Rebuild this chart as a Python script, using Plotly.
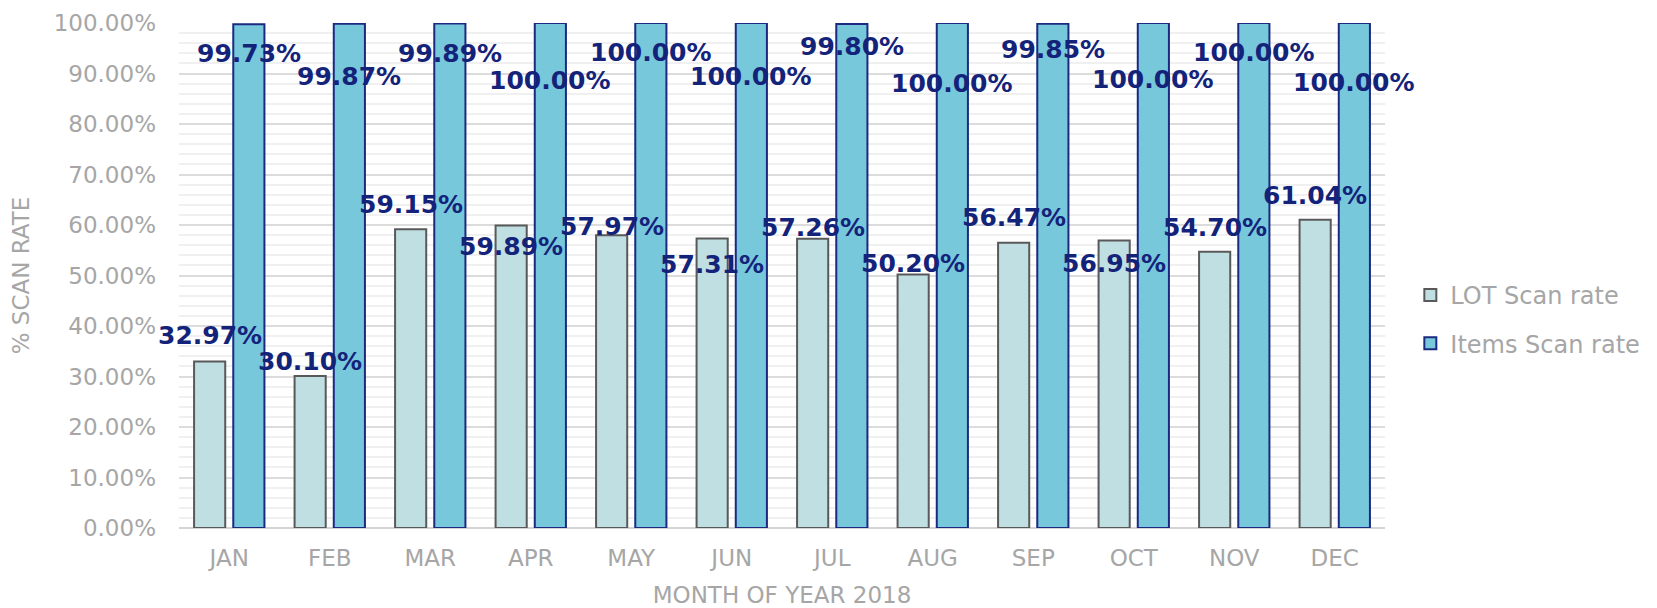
import plotly.graph_objects as go

months = ["JAN", "FEB", "MAR", "APR", "MAY", "JUN", "JUL", "AUG", "SEP", "OCT", "NOV", "DEC"]
lot_rate = [0.3297, 0.3010, 0.5915, 0.5989, 0.5797, 0.5731, 0.5726, 0.5020, 0.5647, 0.5695, 0.5470, 0.6104]
items_rate = [0.9973, 0.9987, 0.9989, 1.0000, 1.0000, 1.0000, 0.9980, 1.0000, 0.9985, 1.0000, 1.0000, 1.0000]

# label placement (vertical pixel shift relative to bar top), as in the original chart
lot_label_shift = [26, 15, 25, -21, 9, -26, 11, 11, 25, -23, 24, 24]
items_label_shift = [-29, -53, -30, -57, -29, -53, -22, -60, -26, -56, -29, -59]

NAVY = "#14237A"
GRAY = "#A6A6A6"
FONT = "DejaVu Sans"

fig = go.Figure()
fig.add_trace(go.Bar(
    x=months, y=lot_rate, name="LOT Scan rate",
    width=0.31, offset=-0.35,
    marker=dict(color="#C0DFE2", line=dict(color="#595959", width=2)),
    legendgroup="a", cliponaxis=False,
))
fig.add_trace(go.Bar(
    x=months, y=items_rate, name="Items Scan rate",
    width=0.31, offset=0.04,
    marker=dict(color="#78C8DC", line=dict(color="#1B2A80", width=2)),
    legendgroup="b", cliponaxis=False,
))

annotations = []
for m, v, s in zip(months, lot_rate, lot_label_shift):
    annotations.append(dict(x=m, y=v, xref="x", yref="y", text=f"<b>{v*100:.2f}%</b>",
                            showarrow=False, xshift=-19.6, yshift=s,
                            font=dict(family=FONT, size=25, color=NAVY)))
for m, v, s in zip(months, items_rate, items_label_shift):
    annotations.append(dict(x=m, y=v, xref="x", yref="y", text=f"<b>{v*100:.2f}%</b>",
                            showarrow=False, xshift=19.6, yshift=s,
                            font=dict(family=FONT, size=25, color=NAVY)))

# page body has an 8px default margin, so the figure is sized to fit the window
fig.update_layout(
    width=1649, height=600,
    margin=dict(l=171, r=272, t=15, b=80, autoexpand=False),
    paper_bgcolor="white", plot_bgcolor="white",
    barmode="overlay",
    font=dict(family=FONT, size=24, color=GRAY),
    annotations=annotations,
    legend=dict(x=1.021, xanchor="left", y=0.505, yanchor="top",
                traceorder="grouped", tracegroupgap=14,
                font=dict(family=FONT, size=24, color=GRAY)),
    xaxis=dict(
        type="category", range=[-0.5, 11.5], automargin=False,
        showgrid=False, showline=False,
        zeroline=False, ticks="", ticklabelstandoff=14,
        tickfont=dict(family=FONT, size=23, color=GRAY),
        title=dict(text="MONTH OF YEAR 2018", standoff=24,
                   font=dict(family=FONT, size=23, color=GRAY)),
    ),
    yaxis=dict(
        range=[0, 1], dtick=0.1, tickformat=".2%", automargin=False,
        ticklabeloverflow="allow",
        showgrid=True, gridcolor="#DCDCDC", gridwidth=1.5,
        minor=dict(dtick=0.02, showgrid=True, gridcolor="#F0F0F0", gridwidth=1.5),
        zeroline=True, zerolinecolor="#D4D4D4", zerolinewidth=2,
        showline=False, ticks="", ticklabelstandoff=22,
        tickfont=dict(family=FONT, size=23, color=GRAY),
        title=dict(text="% SCAN RATE", standoff=27,
                   font=dict(family=FONT, size=23, color=GRAY)),
    ),
)

fig.write_html("out.html")
